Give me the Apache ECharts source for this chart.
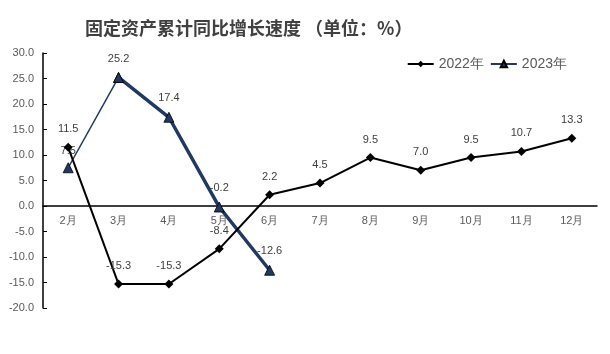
<!DOCTYPE html>
<html>
<head>
<meta charset="utf-8">
<script src="https://cdn.jsdelivr.net/npm/echarts@6/dist/echarts.min.js"></script>
<style>
  html, body { margin: 0; padding: 0; background: #fff; }
  #chart-container { width: 610px; height: 354px; }
</style>
</head>
<body>
<div id="chart-container"></div>
<script>
var months = ['2月', '3月', '4月', '5月', '6月', '7月', '8月', '9月', '10月', '11月', '12月'];
var values2022 = [11.5, -15.3, -15.3, -8.4, 2.2, 4.5, 9.5, 7.0, 9.5, 10.7, 13.3];
var values2023 = [7.5, 25.2, 17.4, -0.2, -12.6];
var yTicks = { min: -20, max: 30, interval: 5 };

var chartDom = document.getElementById('chart-container');
var myChart = echarts.init(chartDom);
var option;

var navy = '#203864';
var textGrey = '#595959';
var gridTop = 53, gridBottom = 46;
// move the category axis up to the zero line (labels follow it)
var plotH = 354 - gridTop - gridBottom;
var zeroOffset = -Math.round(plotH * (0 - yTicks.min) / (yTicks.max - yTicks.min));

// 2023: first segment drawn thin, the rest thick
var first2023 = values2023.slice(0, 2);
var rest2023 = [null].concat(values2023.slice(1));

var labelStyle = {
  show: true,
  position: 'top',
  distance: 8,
  color: '#404040',
  fontSize: 11,
  fontFamily: 'Liberation Sans, Arial, sans-serif',
  formatter: function (p) { return p.value == null ? '' : p.value.toFixed(1); }
};

option = {
  animation: false,
  title: {
    text: '固定资产累计同比增长速度 （单位：%）',
    left: 80,
    top: 14,
    textStyle: {
      fontFamily: 'Noto Sans CJK SC',
      fontWeight: 'bold',
      fontSize: 18,
      color: '#404040'
    }
  },
  legend: {
    right: 38,
    top: 52,
    itemWidth: 26,
    itemHeight: 8,
    itemGap: 6,
    textStyle: { color: textGrey, fontSize: 14, fontFamily: 'Liberation Sans, Arial, sans-serif' },
    data: ['2022年', '2023年']
  },
  grid: { left: 43, right: 13, top: gridTop, bottom: gridBottom },
  xAxis: {
    type: 'category',
    data: months,
    offset: zeroOffset,
    axisLine: { onZero: false, lineStyle: { color: '#000', width: 1.5 } },
    axisTick: { inside: true, length: 4, lineStyle: { color: '#000' } },
    axisLabel: { color: textGrey, fontSize: 11, margin: 9, fontFamily: 'Liberation Sans, Arial, sans-serif' }
  },
  yAxis: {
    type: 'value',
    min: yTicks.min,
    max: yTicks.max,
    interval: yTicks.interval,
    splitLine: { show: false },
    axisLine: { show: true, lineStyle: { color: '#000', width: 1.5 } },
    axisTick: { show: true, inside: true, length: 4, lineStyle: { color: '#000' } },
    axisLabel: {
      color: textGrey,
      fontSize: 11,
      margin: 9,
      fontFamily: 'Liberation Sans, Arial, sans-serif',
      formatter: function (v) { return v.toFixed(1); }
    }
  },
  series: [
    {
      name: '2022年',
      type: 'line',
      data: values2022,
      symbol: 'diamond',
      symbolSize: 9,
      lineStyle: { color: '#000', width: 2 },
      itemStyle: { color: '#000' },
      label: labelStyle,
      z: 3
    },
    {
      name: '2023年-first',
      type: 'line',
      data: first2023,
      symbol: 'triangle',
      symbolSize: 10,
      lineStyle: { color: navy, width: 1.5 },
      itemStyle: { color: navy, borderColor: '#000', borderWidth: 0.8 },
      label: {
        show: true, position: 'top', distance: 6, color: '#404040', fontSize: 11,
        fontFamily: 'Liberation Sans, Arial, sans-serif',
        formatter: function (p) { return p.dataIndex === 0 ? p.value.toFixed(1) : ''; }
      },
      z: 2
    },
    {
      name: '2023年',
      type: 'line',
      data: rest2023,
      symbol: 'triangle',
      symbolSize: 10,
      lineStyle: { color: navy, width: 3.5 },
      itemStyle: { color: navy, borderColor: '#000', borderWidth: 0.8 },
      label: labelStyle,
      z: 2
    }
  ]
};

option && myChart.setOption(option);
</script>
</body>
</html>
